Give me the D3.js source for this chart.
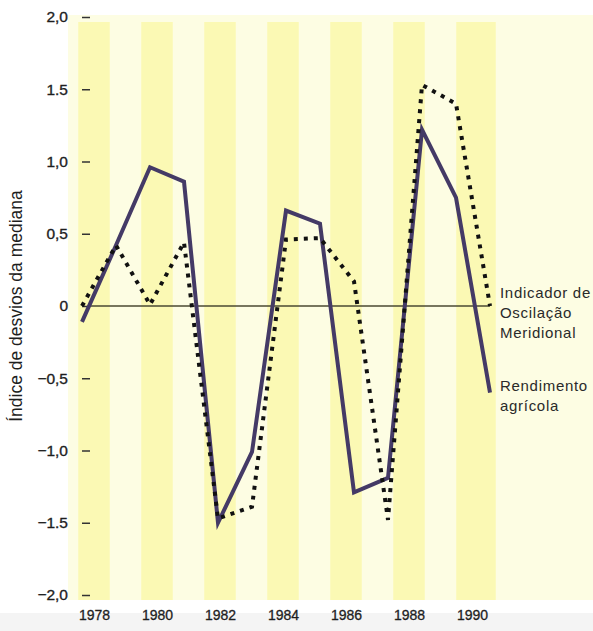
<!DOCTYPE html>
<html lang="pt">
<head>
<meta charset="utf-8">
<script src="https://cdn.jsdelivr.net/npm/d3@7"></script>
<style>
  html, body { margin: 0; padding: 0; background: #ffffff; }
  svg { display: block; }
  text { font-family: "Liberation Sans", Arial, sans-serif; }
</style>
</head>
<body>
<svg id="chart" width="593" height="631"></svg>
<script>
// Anos da série e valores (índice de desvios da mediana)
const years = [1978, 1979, 1980, 1981, 1982, 1983, 1984, 1985, 1986, 1987, 1988, 1989, 1990];
const rendimentoAgricola = [-0.11, 0.42, 0.96, 0.86, -1.50, -1.01, 0.66, 0.57, -1.29, -1.19, 1.22, 0.75, -0.60];
const oscilacaoMeridional = [0.00, 0.42, 0.01, 0.44, -1.47, -1.39, 0.46, 0.47, 0.17, -1.48, 1.53, 1.40, 0.00];

// Rótulos dos eixos
const xTickYears = [1978, 1980, 1982, 1984, 1986, 1988, 1990];
const yTickValues = [2, 1.5, 1, 0.5, 0, -0.5, -1, -1.5, -2];
const yTickLabels = ["2,0", "1.5", "1,0", "0,5", "0", "\u22120,5", "\u22121,0", "\u22121.5", "\u22122,0"];
const stripeYears = [1978, 1980, 1982, 1984, 1986, 1988, 1990];

const svg = d3.select("#chart");
const W = 593, H = 631;

// Escalas
const y = d3.scaleLinear().domain([-2, 2]).range([595, 17]);
const xData = d3.scaleLinear().domain([1978, 1990]).range([82, 490]);
const xAxisScale = d3.scaleLinear().domain([1978, 1990]).range([94, 472]);

// Faixa cinzenta no rodapé
svg.append("rect").attr("x", 0).attr("y", 613).attr("width", W).attr("height", H - 613)
  .attr("fill", "#f4f4f4");

// Fundo da área do gráfico
svg.append("rect").attr("x", 68).attr("y", 15).attr("width", W - 68).attr("height", 585)
  .attr("fill", "#fdfde3");

// Faixas amarelas nos anos pares
const yearW = xAxisScale(1979) - xAxisScale(1978);
svg.append("g").selectAll("rect").data(stripeYears).join("rect")
  .attr("x", d => xAxisScale(d) - yearW / 2)
  .attr("y", 22)
  .attr("width", d => d === 1990 ? yearW + 8 : yearW)
  .attr("height", 578)
  .attr("fill", "#fbf9b4");

// Eixo Y
const yAxis = d3.axisLeft(y)
  .tickValues(yTickValues)
  .tickFormat((d, i) => yTickLabels[i])
  .tickSize(8)
  .tickPadding(14);
const gy = svg.append("g").attr("transform", "translate(90,0)").call(yAxis);
gy.select(".domain").remove();
gy.selectAll(".tick line").attr("stroke", "#333").attr("stroke-width", 1.5);
gy.selectAll(".tick text")
  .attr("fill", "#1e1e1e")
  .attr("stroke", "#1e1e1e")
  .attr("stroke-width", 0.35)
  .style("font-size", "15.5px")
  .style("font-family", "'Liberation Sans', Arial, sans-serif");

// Eixo X
const xAxis = d3.axisBottom(xAxisScale)
  .tickValues(xTickYears)
  .tickFormat(d3.format("d"))
  .tickSize(0)
  .tickPadding(0);
const gx = svg.append("g").attr("transform", "translate(0,610)").call(xAxis);
gx.select(".domain").remove();
gx.selectAll(".tick text")
  .attr("fill", "#1e1e1e")
  .attr("stroke", "#1e1e1e")
  .attr("stroke-width", 0.3)
  .attr("dy", "0.71em")
  .style("font-size", "14px")
  .style("font-family", "'Liberation Sans', Arial, sans-serif");

// Linha de referência no zero
svg.append("line")
  .attr("x1", xData(1978) + 6).attr("x2", xData(1990))
  .attr("y1", y(0)).attr("y2", y(0))
  .attr("stroke", "#4a4832").attr("stroke-width", 1.3);

// Rendimento agrícola (linha contínua)
const line = d3.line().x((d, i) => xData(years[i])).y(d => y(d));
svg.append("path").datum(rendimentoAgricola)
  .attr("d", line)
  .attr("fill", "none")
  .attr("stroke", "#443a66")
  .attr("stroke-width", 4)
  .attr("stroke-linejoin", "miter");

// Indicador de Oscilação Meridional (linha pontilhada)
svg.append("path").datum(oscilacaoMeridional)
  .attr("d", line)
  .attr("fill", "none")
  .attr("stroke", "#111")
  .attr("stroke-width", 4)
  .attr("stroke-dasharray", "4,6");

// Legendas junto às linhas
const legend = [
  { lines: ["Indicador de", "Oscilação", "Meridional"], y0: 298 },
  { lines: ["Rendimento", "agrícola"], y0: 391 }
];
legend.forEach(l => {
  svg.append("text")
    .attr("x", 500).attr("y", l.y0)
    .attr("fill", "#2a2a2a")
    .style("font-size", "15px")
    .style("letter-spacing", "0.7px")
    .selectAll("tspan").data(l.lines).join("tspan")
    .attr("x", 500)
    .attr("dy", (d, i) => i === 0 ? 0 : 20)
    .text(d => d);
});

// Título do eixo Y
svg.append("text")
  .attr("transform", `translate(22,${y(0)}) rotate(-90)`)
  .attr("text-anchor", "middle")
  .attr("fill", "#1e1e1e")
  .style("font-size", "17.5px")
  .text("Índice de desvios da mediana");
</script>
</body>
</html>
